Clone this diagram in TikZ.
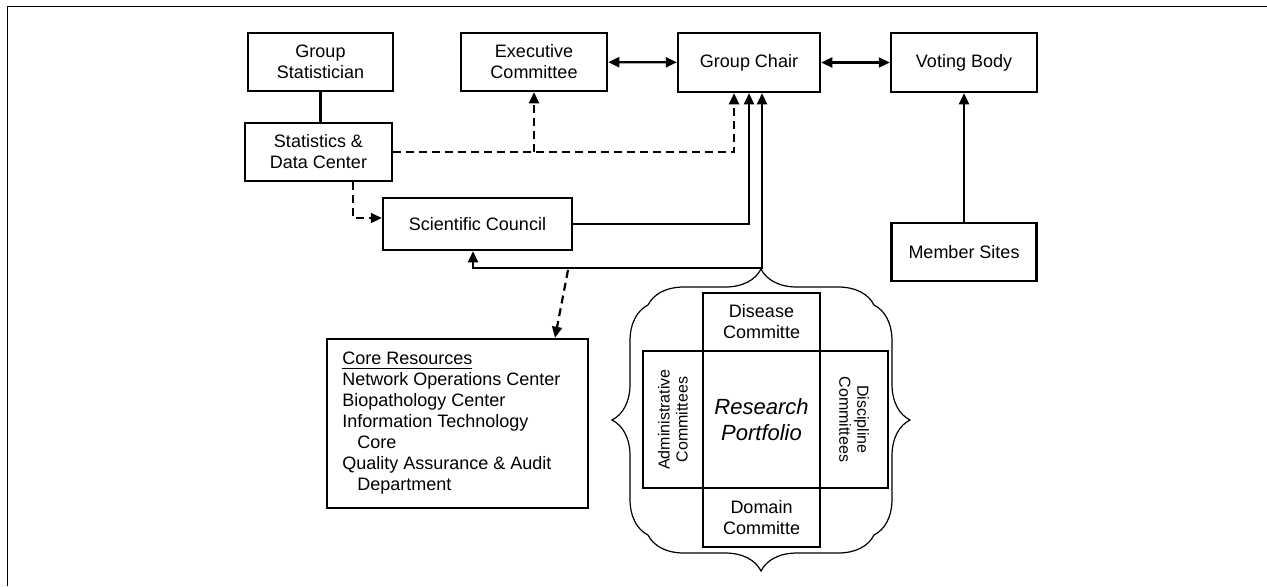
\documentclass[tikz,border=0pt]{standalone}
\usepackage{fontspec}
\setmainfont{Liberation Sans}
\usetikzlibrary{arrows.meta, decorations.pathreplacing}

\begin{document}
\begin{tikzpicture}[x=0.5pt, y=-0.5pt,
    >={Triangle[length=5.5pt,width=5pt]},
    box/.style={draw, line width=1.25pt, align=center, inner sep=0pt,
      font=\fontsize{9}{10.5}\selectfont},
    conn/.style={line width=1.1pt, ->},
    dconn/.style={line width=1.1pt, dash pattern=on 4pt off 2.5pt, ->},
    brc/.style={line width=0.6pt, decorate,
      decoration={brace, amplitude=18pt}}]
  \useasboundingbox (0,0) rectangle (1267,586);

  % Rahmen
  \draw[line width=0.8pt] (7.5,586) -- (7.5,6.5) -- (1267,6.5);

  % obere Reihe
  \node[box, minimum width=72.5pt, minimum height=29pt] (stat) at (320.5,62) {Group\\Statistician};
  \node[box, minimum width=73pt, minimum height=29pt] (exec) at (534,62) {Executive\\Committee};
  \node[box, minimum width=71pt, minimum height=29.5pt] (chair) at (749,62.5) {Group Chair};
  \node[box, minimum width=73pt, minimum height=29.5pt] (voting) at (964,62.5) {Voting Body};

  % mittlere Knoten
  \node[box, minimum width=73.5pt, minimum height=29pt] (sdc) at (318.5,152) {Statistics \&\\Data Center};
  \node[box, minimum width=94.5pt, minimum height=26pt] (council) at (477.5,224) {Scientific Council};
  \node[box, minimum width=72.5pt, minimum height=29pt] (sites) at (964,252) {Member Sites};

  % Core Resources
  \node[box, minimum width=130.5pt, minimum height=84.5pt] (core) at (457.5,423.5) {};
  \node[anchor=north west, align=left, inner sep=0pt,
    font=\fontsize{9}{10.5}\selectfont] (corelist) at (342,352)
    {\underline{Core Resources}\\
     Network Operations Center\\
     Biopathology Center\\
     Information Technology\\
     \hspace*{7.5pt}Core\\
     Quality Assurance \& Audit\\
     \hspace*{7.5pt}Department};

  % Research Portfolio
  \node[box, minimum width=58.5pt, minimum height=29pt] (disease) at (761.5,322) {Disease\\Committe};
  \node[box, minimum width=58.5pt, minimum height=68.5pt,
    font=\fontsize{11}{13}\selectfont\itshape] (portfolio) at (761.5,419.5) {Research\\Portfolio};
  \node[box, minimum width=58.5pt, minimum height=29.5pt] (domain) at (761.5,517.5) {Domain\\Committe};
  \node[box, rotate=90, minimum width=68.5pt, minimum height=30pt,
    font=\fontsize{8}{9}\selectfont] (admin) at (673,419.5) {Administrative\\Committees};
  \node[box, rotate=-90, minimum width=68.5pt, minimum height=34pt,
    font=\fontsize{8}{9}\selectfont] (discip) at (854,419.5) {Discipline\\Committees};

  % Klammern
  \draw[brc] (648,305) -- (874,305);
  \draw[brc] (874,305) -- (874,535);
  \draw[brc] (874,535) -- (648,535);
  \draw[brc] (648,535) -- (648,305);

  % Verbindungen
  \draw[line width=1.1pt] (stat.south) -- (stat.south |- sdc.north);
  \draw[conn, <->] (exec) -- (chair);
  \draw[conn, <->] (chair) -- (voting);
  \draw[conn] (sites) -- (voting);
  \draw[dconn] ([xshift=17.25pt]sdc.south) |- ([yshift=3pt]council.west);
  \draw[dconn] (sdc.east) -| ([xshift=-7.5pt]chair.south);
  \draw[dconn] (exec.south |- sdc.east) -- (exec.south);
  \draw[conn] (council.east) -| (chair.south);
  \coordinate (junc) at (762,268);
  \draw[conn, <->] ([xshift=-2.25pt]council.south) |- (junc) -- (junc |- chair.south);
  \coordinate (split) at (568,270);
  \draw[dconn] (split) -- ([xshift=48.75pt]core.north);
\end{tikzpicture}
\end{document}
